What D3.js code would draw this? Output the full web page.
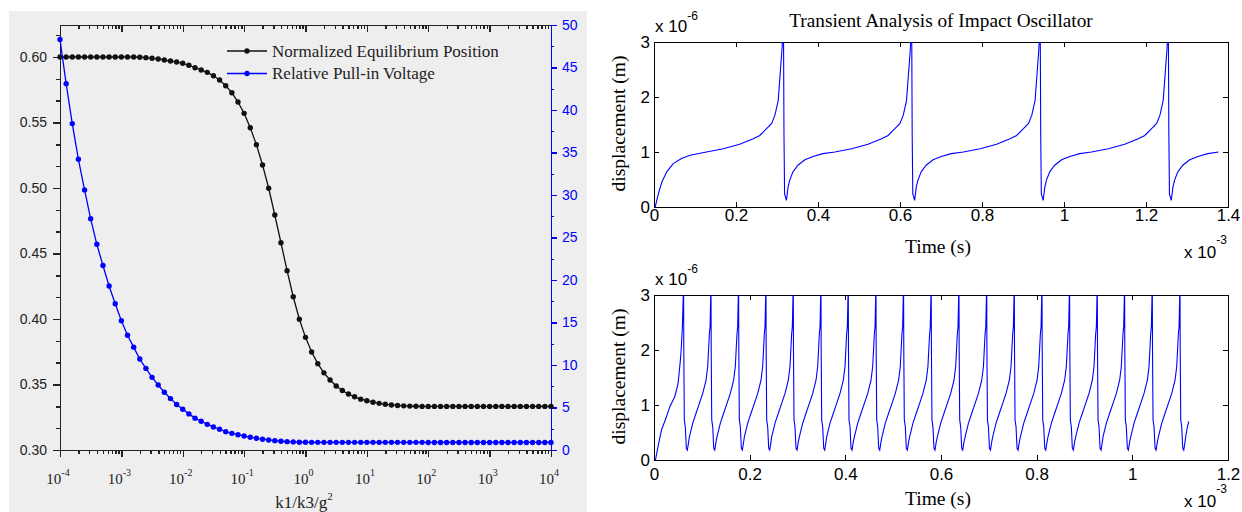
<!DOCTYPE html>
<html>
<head>
<meta charset="utf-8">
<script src="https://cdn.jsdelivr.net/npm/d3@7"></script>
<style>
  body { margin: 0; background: #fff; }
  .serif { font-family: "Liberation Serif", "Times New Roman", serif; }
  .sans { font-family: "Liberation Sans", Arial, sans-serif; }
  .ax path, .ax line { shape-rendering: crispEdges; }
</style>
</head>
<body>
<svg id="chart" width="1242" height="512"></svg>
<script>
// ---------- left chart: k1/k3/g^2 sweep ----------
// exponents of k1/k3/g^2 (10 samples per decade)
const kExp = [
  -4.0, -3.9, -3.8, -3.7, -3.6, -3.5, -3.4, -3.3, -3.2, -3.1,
  -3.0, -2.9, -2.8, -2.7, -2.6, -2.5, -2.4, -2.3, -2.2, -2.1,
  -2.0, -1.9, -1.8, -1.7, -1.6, -1.5, -1.4, -1.3, -1.2, -1.1,
  -1.0, -0.9, -0.8, -0.7, -0.6, -0.5, -0.4, -0.3, -0.2, -0.1,
   0.0,  0.1,  0.2,  0.3,  0.4,  0.5,  0.6,  0.7,  0.8,  0.9,
   1.0,  1.1,  1.2,  1.3,  1.4,  1.5,  1.6,  1.7,  1.8,  1.9,
   2.0,  2.1,  2.2,  2.3,  2.4,  2.5,  2.6,  2.7,  2.8,  2.9,
   3.0,  3.1,  3.2,  3.3,  3.4,  3.5,  3.6,  3.7,  3.8,  3.9,
   4.0
];

// normalized equilibrium position (left axis)
const eqPosition = [
  0.600, 0.600, 0.600, 0.600, 0.600, 0.600, 0.600, 0.600, 0.600, 0.600,
  0.600, 0.600, 0.600, 0.5998, 0.5995, 0.5990, 0.5985, 0.5977, 0.5969, 0.5962,
  0.5952, 0.5937, 0.5918, 0.5901, 0.5883, 0.5857, 0.5824, 0.5781, 0.5727, 0.5656,
  0.5570, 0.5460, 0.5331, 0.5176, 0.4998, 0.4794, 0.4582, 0.4369, 0.4170, 0.3998,
  0.3860, 0.3748, 0.3659, 0.3589, 0.3534, 0.3489, 0.3454, 0.3427, 0.3406, 0.3388,
  0.3376, 0.3365, 0.3356, 0.3349, 0.3344, 0.3340, 0.3337, 0.3335, 0.3334, 0.3333,
  0.3333, 0.3333, 0.3333, 0.3333, 0.3333, 0.3333, 0.3333, 0.3333, 0.3333, 0.3333,
  0.3333, 0.3333, 0.3333, 0.3333, 0.3333, 0.3333, 0.3333, 0.3333, 0.3333, 0.3333,
  0.3333
];

// relative pull-in voltage (right axis)
const pullIn = [
  48.3, 43.1, 38.4, 34.2, 30.6, 27.2, 24.2, 21.7, 19.3, 17.2,
  15.2, 13.5, 12.1, 10.7, 9.6, 8.55, 7.65, 6.8, 6.05, 5.35,
  4.8, 4.25, 3.75, 3.38, 3.02, 2.71, 2.44, 2.16, 1.96, 1.8,
  1.65, 1.5, 1.38, 1.27, 1.18, 1.1, 1.03, 0.98, 0.95, 0.92,
  0.91, 0.9, 0.9, 0.9, 0.9, 0.9, 0.9, 0.9, 0.9, 0.9,
  0.9, 0.9, 0.9, 0.9, 0.9, 0.9, 0.9, 0.9, 0.9, 0.9,
  0.89, 0.89, 0.89, 0.89, 0.89, 0.89, 0.89, 0.89, 0.89, 0.89,
  0.89, 0.89, 0.89, 0.89, 0.89, 0.89, 0.89, 0.89, 0.89, 0.89,
  0.89
];

const legendItems = [
  { name: "Normalized Equilibrium Position", color: "#111" },
  { name: "Relative Pull-in Voltage", color: "#0000ff" }
];
const leftTicks = [0.30, 0.35, 0.40, 0.45, 0.50, 0.55, 0.60];
const rightTicks = [0, 5, 10, 15, 20, 25, 30, 35, 40, 45, 50];
const decadeExp = [-4, -3, -2, -1, 0, 1, 2, 3, 4];

// ---------- right charts: transient analysis ----------
// time in 1e-3 s, displacement in 1e-6 m
const topFirstRise = [[0.003, 0], [0.0106, 0.24], [0.019, 0.45], [0.031, 0.64], [0.047, 0.79],
  [0.067, 0.88], [0.088, 0.94], [0.128, 1.0], [0.169, 1.06], [0.209, 1.14], [0.242, 1.24],
  [0.258, 1.30], [0.274, 1.42], [0.287, 1.52], [0.295, 1.67], [0.303, 1.94], [0.308, 2.45],
  [0.312, 2.85], [0.3133, 3.0]];
// rise before a spike / fall after it, time offsets from the spike
const topRise = [[-0.185, 1.0], [-0.144, 1.06], [-0.104, 1.14], [-0.071, 1.24], [-0.055, 1.30],
  [-0.039, 1.42], [-0.026, 1.52], [-0.018, 1.67], [-0.010, 1.94], [-0.005, 2.45], [-0.001, 2.85], [0, 3.0]];
const topFall = [[0.0012, 3.5], [0.0027, 3.0], [0.0037, 1.34], [0.0052, 0.24], [0.0097, 0.12],
  [0.0137, 0.36], [0.0177, 0.49], [0.0257, 0.64], [0.0377, 0.76], [0.0547, 0.86], [0.0747, 0.92], [0.0987, 0.97]];
const topSpikes = [0.3133, 0.626, 0.9395, 1.252];
const topTail = [[1.377, 1.0]];

const botFirstRise = [[0.003, 0], [0.009, 0.27], [0.0159, 0.55], [0.0262, 0.79], [0.0331, 0.97],
  [0.0434, 1.15], [0.0503, 1.39], [0.0552, 1.82], [0.0572, 2.05], [0.0593, 2.42], [0.0613, 3.0]];
const botRise = [[-0.0446, 0.42], [-0.0376, 0.67], [-0.0307, 0.85], [-0.0237, 1.03], [-0.0167, 1.21],
  [-0.0098, 1.45], [-0.0063, 1.7], [-0.0042, 2.06], [-0.0028, 2.3], [-0.0014, 2.42], [0, 3.0]];
const botFall = [[0.0005, 3.3], [0.0010, 2.0], [0.0021, 0.73], [0.0042, 0.6], [0.0063, 0.21],
  [0.0084, 0.18], [0.0111, 0.33]];
const botSpikes = [0.0613, 0.1186, 0.1763, 0.2335, 0.2906, 0.3485, 0.4056, 0.4635, 0.5212, 0.5790,
  0.6370, 0.6950, 0.7527, 0.8106, 0.8683, 0.9262, 0.9833, 1.0412, 1.0991];
const botTail = [[1.112, 0.45], [1.115, 0.6], [1.118, 0.7]];

const topXTicks = [0, 0.2, 0.4, 0.6, 0.8, 1.0, 1.2, 1.4];
const botXTicks = [0, 0.2, 0.4, 0.6, 0.8, 1.0, 1.2];
const dispTicks = [0, 1, 2, 3];

const svg = d3.select("#chart");

// ================= left panel =================
svg.append("rect").attr("x", 9).attr("y", 11).attr("width", 578).attr("height", 501).attr("fill", "#eeeeee");

const xL = d3.scaleLog().domain([1e-4, 1e4]).range([60, 551]);
const yL = d3.scaleLinear().domain([0.30, 0.30 + 425 / 1310]).range([450, 25]);
const yR = d3.scaleLinear().domain([0, 50]).range([450, 25]);

const decades = decadeExp.map(e => Math.pow(10, e));
const minorX = [];
decades.slice(0, -1).forEach(d => { for (let m = 2; m <= 9; m++) minorX.push(d * m); });
const minorL = [];
leftTicks.slice(0, -1).forEach(v => { minorL.push(v + 0.05 / 3, v + 0.1 / 3); });
minorL.push(0.60 + 0.05 / 3);
const minorR = rightTicks.slice(0, -1).map(v => v + 2.5);

function styleAxis(g, color, width) {
  g.attr("class", "ax");
  g.selectAll("path").attr("stroke", color).attr("stroke-width", width);
  g.selectAll("line").attr("stroke", color).attr("stroke-width", width);
}

// bottom axis (outward ticks)
svg.append("g").attr("transform", "translate(0,450)")
  .call(d3.axisBottom(xL).tickValues(minorX).tickSize(4).tickSizeOuter(0).tickFormat(""))
  .call(g => styleAxis(g, "#222", 1.4));
svg.append("g").attr("transform", "translate(0,450)")
  .call(d3.axisBottom(xL).tickValues(decades).tickSize(7).tickSizeOuter(0).tickFormat(""))
  .call(g => styleAxis(g, "#222", 1.4));
// top axis (inward ticks)
svg.append("g").attr("transform", "translate(0,25)")
  .call(d3.axisTop(xL).tickValues(minorX).tickSize(-4).tickSizeOuter(0).tickFormat(""))
  .call(g => styleAxis(g, "#222", 1.4));
svg.append("g").attr("transform", "translate(0,25)")
  .call(d3.axisTop(xL).tickValues(decades).tickSize(-7).tickSizeOuter(0).tickFormat(""))
  .call(g => styleAxis(g, "#222", 1.4));

// left axis
svg.append("g").attr("transform", "translate(60,0)")
  .call(d3.axisLeft(yL).tickValues(minorL).tickSize(4).tickSizeOuter(0).tickFormat(""))
  .call(g => styleAxis(g, "#222", 1.4));
svg.append("g").attr("transform", "translate(60,0)")
  .call(d3.axisLeft(yL).tickValues(leftTicks).tickSize(7).tickPadding(6).tickSizeOuter(0).tickFormat(d3.format(".2f")))
  .call(g => styleAxis(g, "#222", 1.4))
  .call(g => g.selectAll("text").attr("class", "sans").attr("font-size", 14).attr("fill", "#222"));

// right axis (blue)
svg.append("g").attr("transform", "translate(551,0)")
  .call(d3.axisRight(yR).tickValues(minorR).tickSize(3).tickSizeOuter(0).tickFormat(""))
  .call(g => styleAxis(g, "#0000ff", 1.4));
svg.append("g").attr("transform", "translate(551,0)")
  .call(d3.axisRight(yR).tickValues(rightTicks).tickSize(6).tickPadding(5).tickSizeOuter(0))
  .call(g => styleAxis(g, "#0000ff", 1.4))
  .call(g => g.selectAll("text").attr("class", "sans").attr("font-size", 14).attr("fill", "#0000ff"));

// decade labels 10^n
const decLabels = svg.append("g").attr("class", "serif").attr("fill", "#222");
decadeExp.forEach(e => {
  const t = decLabels.append("text")
    .attr("x", xL(Math.pow(10, e)) - 2).attr("y", 484)
    .attr("text-anchor", "middle").attr("font-size", 15).text("10");
  t.append("tspan").attr("dy", -8).attr("font-size", 10).text(e);
});

const xlab = svg.append("text").attr("class", "serif").attr("x", 304).attr("y", 508)
  .attr("text-anchor", "middle").attr("font-size", 17).attr("fill", "#222").text("k1/k3/g");
xlab.append("tspan").attr("dy", -8).attr("font-size", 11).text("2");

// series
const sweep = kExp.map((e, i) => ({ k: Math.pow(10, e), eq: eqPosition[i], v: pullIn[i] }));

svg.append("path").datum(sweep)
  .attr("fill", "none").attr("stroke", "#111").attr("stroke-width", 1.3)
  .attr("d", d3.line().x(d => xL(d.k)).y(d => yL(d.eq)));
svg.append("g").selectAll("circle").data(sweep).join("circle")
  .attr("cx", d => xL(d.k)).attr("cy", d => yL(d.eq)).attr("r", 2.7).attr("fill", "#111");

svg.append("path").datum(sweep)
  .attr("fill", "none").attr("stroke", "#0000ff").attr("stroke-width", 1.3)
  .attr("d", d3.line().x(d => xL(d.k)).y(d => yR(d.v)));
svg.append("g").selectAll("circle").data(sweep).join("circle")
  .attr("cx", d => xL(d.k)).attr("cy", d => yR(d.v)).attr("r", 2.7).attr("fill", "#0000ff");

// legend
const legend = svg.append("g").attr("transform", "translate(227,51)");
legendItems.forEach((item, i) => {
  const row = legend.append("g").attr("transform", `translate(0,${i * 22.5})`);
  row.append("line").attr("x1", 0).attr("x2", 40).attr("stroke", item.color).attr("stroke-width", 1.5);
  row.append("circle").attr("cx", 20).attr("r", 2.7).attr("fill", item.color);
  row.append("text").attr("class", "serif").attr("x", 45).attr("y", 5.5)
    .attr("font-size", 17).attr("fill", "#222").text(item.name);
});

// ================= right panels =================
function buildSeries(firstRise, rise, fall, spikes, tail) {
  const pts = [];
  spikes.forEach((ts, k) => {
    if (k === 0) firstRise.forEach(p => pts.push(p));
    else rise.forEach(([dt, y]) => pts.push([ts + dt, y]));
    fall.forEach(([dt, y]) => pts.push([ts + dt, y]));
  });
  tail.forEach(p => pts.push(p));
  return pts;
}

function transientPlot(opt) {
  const { top, bottom, xMax, xTicks, series, id, labelPad } = opt;
  const x = d3.scaleLinear().domain([0, xMax]).range([654, 1228]);
  const y = d3.scaleLinear().domain([0, 3]).range([bottom, top]);
  const g = svg.append("g");

  g.append("clipPath").attr("id", id).append("rect")
    .attr("x", 654).attr("y", top).attr("width", 574).attr("height", bottom - top);

  const fmt = d => d3.format("~g")(d);
  g.append("g").attr("transform", `translate(0,${bottom})`)
    .call(d3.axisBottom(x).tickValues(xTicks).tickSize(-5).tickPadding(labelPad).tickSizeOuter(0).tickFormat(fmt))
    .call(a => styleAxis(a, "#000", 1))
    .call(a => a.selectAll("text").attr("class", "sans").attr("font-size", 17).attr("fill", "#000"));
  g.append("g").attr("transform", `translate(0,${top})`)
    .call(d3.axisTop(x).tickValues(xTicks).tickSize(-5).tickSizeOuter(0).tickFormat(""))
    .call(a => styleAxis(a, "#000", 1));
  g.append("g").attr("transform", "translate(654,0)")
    .call(d3.axisLeft(y).tickValues(dispTicks).tickSize(-5).tickPadding(4).tickSizeOuter(0).tickFormat(d3.format("d")))
    .call(a => styleAxis(a, "#000", 1))
    .call(a => a.selectAll("text").attr("class", "sans").attr("font-size", 17).attr("fill", "#000"));
  g.append("g").attr("transform", "translate(1228,0)")
    .call(d3.axisRight(y).tickValues(dispTicks).tickSize(-5).tickSizeOuter(0).tickFormat(""))
    .call(a => styleAxis(a, "#000", 1));

  g.append("path").datum(series)
    .attr("clip-path", `url(#${id})`)
    .attr("fill", "none").attr("stroke", "#0000ff").attr("stroke-width", 1.1)
    .attr("d", d3.line().x(d => x(d[0])).y(d => y(d[1])));

  // exponent notes
  const yExp = g.append("text").attr("class", "sans").attr("x", 655).attr("y", top - 10)
    .attr("font-size", 17).text("x 10");
  yExp.append("tspan").attr("dy", -12).attr("font-size", 12).text("-6");

  g.append("text").attr("class", "serif").attr("x", 938).attr("y", opt.timeY)
    .attr("text-anchor", "middle").attr("font-size", 19.5).text("Time (s)");
  const xExp = g.append("text").attr("class", "sans").attr("x", 1184).attr("y", opt.expY)
    .attr("font-size", 17).text("x 10");
  xExp.append("tspan").attr("dy", -14).attr("font-size", 12).text("-3");

  g.append("text").attr("class", "serif")
    .attr("transform", `translate(625,${(top + bottom) / 2 - 1}) rotate(-90)`)
    .attr("text-anchor", "middle").attr("font-size", 19.5).text("displacement (m)");
}

transientPlot({
  id: "clipTop", top: 42, bottom: 207, xMax: 1.4, xTicks: topXTicks, labelPad: 2,
  timeY: 253, expY: 258,
  series: buildSeries(topFirstRise, topRise, topFall, topSpikes, topTail)
});
transientPlot({
  id: "clipBot", top: 295, bottom: 460, xMax: 1.2, xTicks: botXTicks, labelPad: 8,
  timeY: 505, expY: 507,
  series: buildSeries(botFirstRise, botRise, botFall, botSpikes, botTail)
});

svg.append("text").attr("class", "serif").attr("x", 941).attr("y", 27)
  .attr("text-anchor", "middle").attr("font-size", 19.3).text("Transient Analysis of Impact Oscillator");
</script>
</body>
</html>
